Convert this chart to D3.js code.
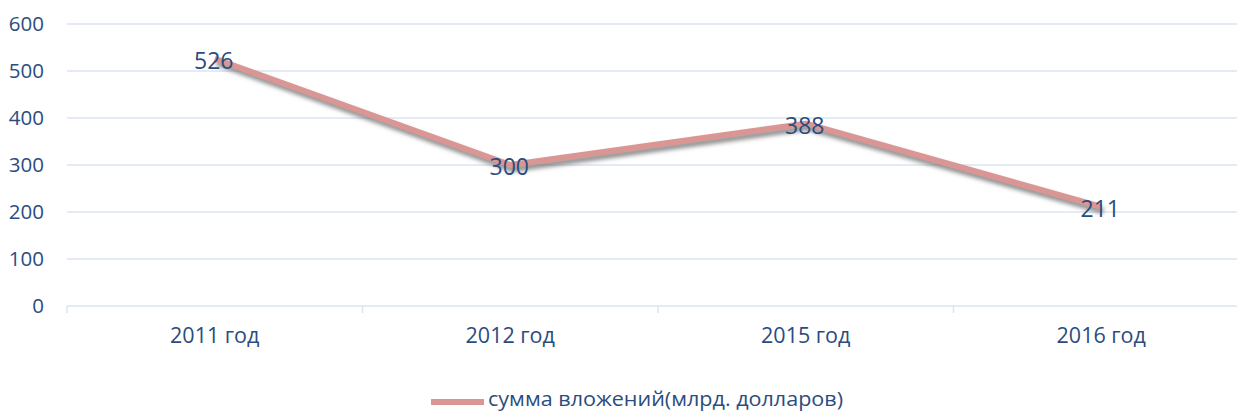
<!DOCTYPE html>
<html><head><meta charset="utf-8">
<script src="https://cdn.jsdelivr.net/npm/d3@7"></script>
<style>
html,body{margin:0;padding:0;background:#fff;}
svg{display:block;}
text{font-family:"Open Sans","Noto Sans",sans-serif;}
</style></head>
<body>
<svg id="chart" width="1237" height="414"></svg>
<script>
const categories = ["2011 год","2012 год","2015 год","2016 год"];
const values = [526, 300, 388, 211];
const yTicks = [0,100,200,300,400,500,600];
const seriesName = "сумма вложений(млрд. долларов)";

(function(){
const svg = d3.select("#chart");
const mLeft = 67, mRight = 1249, mTop = 24, mBottom = 306;
const textColor = "#2b4c7e";
const gridColor = "#dbe5f1";
const lineColor = "#d99694";

const x = d3.scaleBand().domain(categories).range([mLeft, mRight]);
const y = d3.scaleLinear().domain([0, 600]).range([mBottom, mTop]);

const defs = svg.append("defs");
const f = defs.append("filter").attr("id","sh").attr("x","-10%").attr("y","-50%").attr("width","120%").attr("height","200%");
f.append("feGaussianBlur").attr("stdDeviation", 2.2);

// gridlines
svg.append("g").selectAll("line").data(yTicks.filter(d=>d>0)).join("line")
  .attr("x1", mLeft).attr("x2", 1237).attr("y1", d=>y(d)).attr("y2", d=>y(d))
  .attr("stroke", gridColor).attr("stroke-width", 1.3);

// y labels
svg.append("g").selectAll("text").data(yTicks).join("text")
  .attr("x", 44).attr("y", d=>y(d)).attr("dy","0.35em").attr("text-anchor","end")
  .attr("fill", textColor).attr("font-size", 20.5).text(d=>d);

// x axis
const gx = svg.append("g").attr("transform", `translate(0,${mBottom})`);
gx.append("line").attr("x1", mLeft).attr("x2", 1237).attr("stroke", gridColor).attr("stroke-width", 1.5);
const bounds = categories.map(c => x(c));
gx.selectAll("line.tk").data(bounds).join("line").attr("class","tk")
  .attr("x1", d=>d).attr("x2", d=>d).attr("y1", 0).attr("y2", 7)
  .attr("stroke", gridColor).attr("stroke-width", 1.5);
gx.selectAll("text.cat").data(categories).join("text").attr("class","cat")
  .attr("x", d=>x(d)+x.bandwidth()/2).attr("y", 29).attr("dy","0.35em")
  .attr("text-anchor","middle").attr("fill", textColor).attr("font-size", 21.5).text(d=>d);

// line
const pts = categories.map((c,i)=>({c, v: values[i]}));
const line = d3.line().x(d=>x(d.c)+x.bandwidth()/2).y(d=>y(d.v));
svg.append("path").datum(pts).attr("d", line)
  .attr("fill","none").attr("stroke","#6f6f6f").attr("stroke-opacity",0.8).attr("stroke-width",6)
  .attr("stroke-linejoin","round").attr("transform","translate(2,4)").attr("filter","url(#sh)");
svg.append("path").datum(pts).attr("d", line)
  .attr("fill","none").attr("stroke", lineColor).attr("stroke-width",6).attr("stroke-linejoin","round");

// labels
svg.append("g").selectAll("text").data(pts).join("text")
  .attr("x", d=>x(d.c)+x.bandwidth()/2 - 1).attr("y", d=>y(d.v)+2).attr("dy","0.35em")
  .attr("text-anchor","middle").attr("fill", textColor).attr("font-size", 23).text(d=>d.v);

// legend
const lg = svg.append("g");
lg.append("line").attr("x1", 431).attr("x2", 484).attr("y1", 402).attr("y2", 402)
  .attr("stroke", lineColor).attr("stroke-width", 6);
lg.append("text").attr("x", 488).attr("y", 399).attr("dy","0.35em")
  .attr("textLength", 355).attr("lengthAdjust","spacingAndGlyphs")
  .attr("fill", textColor).attr("font-size", 20.5).text(seriesName);
})();
</script>
</body></html>
